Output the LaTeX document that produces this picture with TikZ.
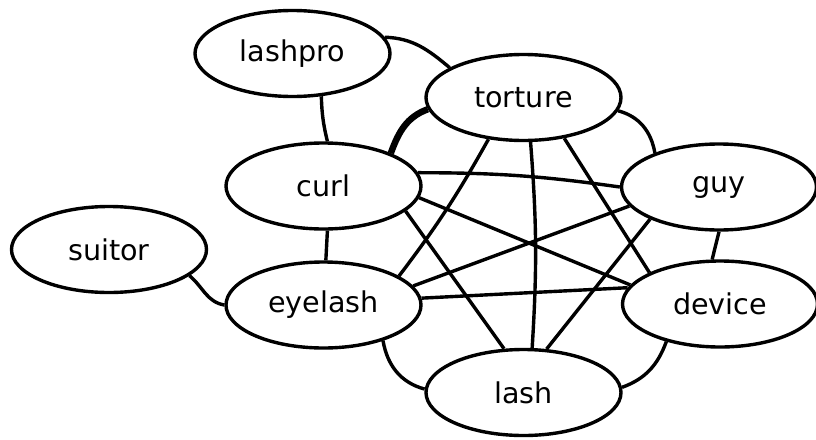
\documentclass[tikz,border=0pt]{standalone}
\usepackage{fontspec}
\setmainfont{DejaVu Sans}
\usetikzlibrary{shapes.geometric}
\begin{document}
\begin{tikzpicture}[x=1pt,y=-1pt,
  vert/.style={ellipse,draw=black,line width=3.4pt,fill=white,minimum width=195pt,minimum height=86pt,inner sep=0pt,font=\fontsize{28.6}{30}\selectfont},
  link/.style={draw=black,line width=3.4pt},
  heavy/.style={draw=black,line width=6.5pt}]
\useasboundingbox (0,0) rectangle (816,439);
\fill[white] (0,0) rectangle (816,439);
\node[vert] (lashpro) at (292.5,53.5) {lashpro};
\node[vert] (torture) at (523.5,97.5) {torture};
\node[vert] (curl) at (323.5,186) {curl};
\node[vert] (guy) at (719,187) {guy};
\node[vert] (suitor) at (109,249.5) {suitor};
\node[vert] (eyelash) at (323.5,305) {eyelash};
\node[vert] (device) at (720,304) {device};
\node[vert] (lash) at (523.5,392.5) {lash};
% connectors
\draw[link] (lashpro.10.8) to[out=-2,in=140] (torture.158.9);
\draw[link] (lashpro.-56.5) to[bend right=6] (curl.85);
\draw[heavy] (torture.187) to[out=200,in=70] (curl.26.4);
\draw[link] (torture.-8.5) to[out=-15,in=100] (guy.152);
\draw[link] (torture.230.6) to[bend left=4] (eyelash.21.9);
\draw[link] (torture.-81.7) to[bend left=4] (lash.79.3);
\draw[link] (torture.-45) -- (device.156);
\draw[link] (curl.8.5) to[bend left=4] (guy.180);
\draw[link] (curl.-7) -- (device.168);
\draw[link] (curl.-17.7) -- (lash.114.5);
\draw[link] (eyelash.12) -- (guy.192.5);
\draw[link] (eyelash.4.6) -- (device.170.4);
\draw[link] (eyelash.-31.9) to[out=-80,in=165] (lash.178);
\draw[link] (curl.-85.5) -- (eyelash.87);
\draw[link] (suitor.-18.8) to[out=-40,in=170] (eyelash.180);
\draw[link] (guy.205) -- (lash.62);
\draw[link] (guy.-90) -- (device.100);
\draw[link] (device.215) to[out=-110,in=20] (lash.3.5);
\end{tikzpicture}
\end{document}
